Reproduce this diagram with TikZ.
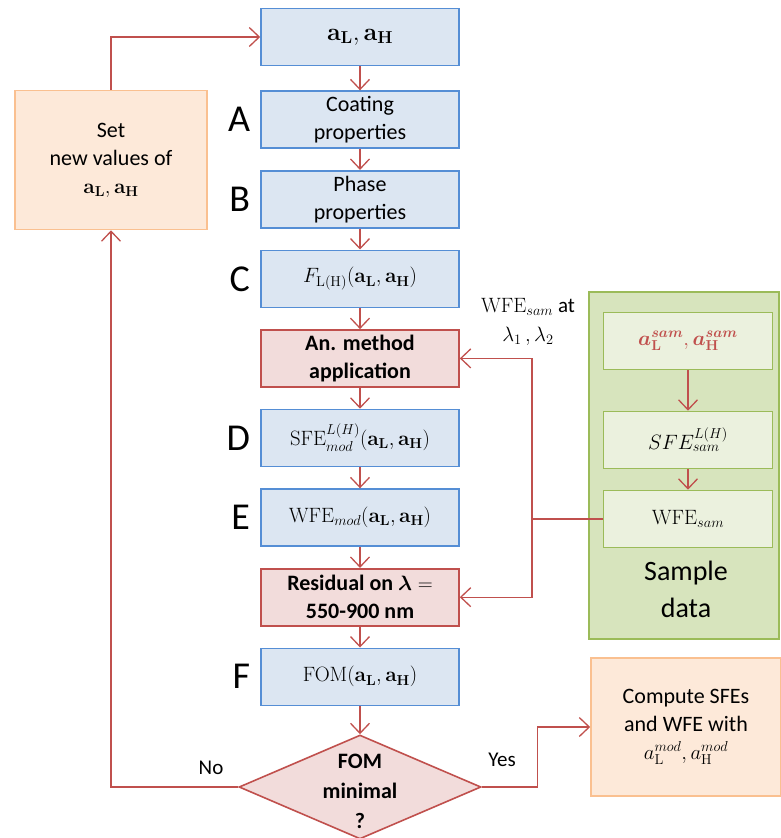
\documentclass[tikz,border=0pt]{standalone}
\usepackage{amsmath}
\usepackage[no-math]{fontspec}
\setmainfont{Carlito}
\usetikzlibrary{positioning,arrows.meta,shapes.geometric}
\definecolor{bluefill}{HTML}{DCE6F2}
\definecolor{blueline}{HTML}{558ED5}
\definecolor{redfill}{HTML}{F2DCDB}
\definecolor{redline}{HTML}{C0504D}
\definecolor{orangefill}{HTML}{FDE9D9}
\definecolor{orangeline}{HTML}{FAC090}
\definecolor{greenfill}{HTML}{D7E4BD}
\definecolor{greeninner}{HTML}{EBF1DE}
\definecolor{greenline}{HTML}{9BBB59}
\newcommand{\aL}{\mathbf{a}_{\mathbf{L}}}
\newcommand{\aH}{\mathbf{a}_{\mathbf{H}}}

\begin{document}
\begin{tikzpicture}[
    x=1pt, y=-1pt,
    >={Straight Barb[length=10pt,width=19pt]},
    font=\fontsize{22}{28}\selectfont,
    node distance=21pt and 10pt,
    every node/.style={align=center},
    box/.style={rectangle, draw, line width=1.6pt,
                minimum height=57pt, minimum width=198pt, inner sep=2pt},
    bluebox/.style={box, draw=blueline, fill=bluefill},
    redbox/.style={box, draw=redline, fill=redfill, font=\fontsize{22}{28}\selectfont\bfseries},
    orangebox/.style={box, draw=orangeline, fill=orangefill},
    greenbox/.style={box, draw=greenline, fill=greeninner,
                     minimum width=169pt},
    decision/.style={diamond, draw=redline, fill=redfill, line width=1.6pt,
                     minimum width=242pt, minimum height=104pt, inner sep=0pt},
    letter/.style={font=\fontsize{38}{40}\selectfont, inner sep=0pt},
    flow/.style={->, draw=redline, line width=1.3pt},
    lbl/.style={font=\fontsize{21}{29}\selectfont, inner sep=1pt}
  ]
  \useasboundingbox (0,0) rectangle (781,838);

  % Main column.
  \node[bluebox, font=\fontsize{24}{28}\selectfont] (start) at (360,37) {$\aL,\aH$};
  \node[bluebox, below=24pt of start] (coat)  {Coating\\properties};
  \node[bluebox, below=of coat]     (phase) {Phase\\properties};
  \node[bluebox, below=of phase]    (Fcoef) {$F_{\mathrm{L(H)}}(\aL,\aH)$};
  \node[redbox, below=of Fcoef]     (anm)   {An. method\\application};
  \node[bluebox, below=of anm]      (sfe)   {$\mathrm{SFE}^{L(H)}_{mod}(\aL,\aH)$};
  \node[bluebox, below=of sfe]      (wfe)   {$\mathrm{WFE}_{mod}(\aL,\aH)$};
  \node[redbox, below=of wfe]       (resid) {Residual on $\boldsymbol{\lambda}=$\\550-900 nm};
  \node[bluebox, below=of resid]    (fom)   {$\mathrm{FOM}(\aL,\aH)$};
  \node[decision] (dec) at (360,787) {};
  \node[font=\fontsize{22}{30}\selectfont\bfseries] (dectxt) at (360,791) {FOM\\minimal\\?};

  % Step letters.
  \node[letter, left=10pt of coat]  (lA) {A};
  \node[letter, left=10pt of phase] (lB) {B};
  \node[letter, left=10pt of Fcoef] (lC) {C};
  \node[letter, left=10pt of sfe]   (lD) {D};
  \node[letter, left=10pt of wfe]   (lE) {E};
  \node[letter, left=10pt of fom]   (lF) {F};

  % Side boxes.
  \node[orangebox, minimum width=192pt, minimum height=139pt] (setv) at (111,160)
    {Set\\new values of\\$\aL,\aH$};
  \node[orangebox, minimum width=190pt, minimum height=138pt] (comp) at (686,727)
    {Compute SFEs\\and WFE with\\$a_{\mathrm{L}}^{mod},a_{\mathrm{H}}^{mod}$};

  % Sample data group.
  \node[box, draw=greenline, fill=greenfill, minimum width=190pt,
        minimum height=347pt] (sample) at (684,465.5) {};
  \node[greenbox] (asam) at (688,341)
    {\color{redline}$\boldsymbol{a}^{\boldsymbol{sam}}_{\mathbf{L}},\boldsymbol{a}^{\boldsymbol{sam}}_{\mathbf{H}}$};
  \node[greenbox] (sfesam) at (688,440) {$SFE^{L(H)}_{sam}$};
  \node[greenbox] (wfesam) at (688,519) {$\mathrm{WFE}_{sam}$};
  \node[font=\fontsize{28}{37}\selectfont] (samtxt) at (686,589) {Sample\\data};

  % Main flow.
  \foreach \a/\b in {start/coat, coat/phase, phase/Fcoef, Fcoef/anm,
                     anm/sfe, sfe/wfe, wfe/resid, resid/fom, fom/dec}
    \draw[flow] (\a) -- (\b);
  \draw[flow] (asam) -- (sfesam);
  \draw[flow] (sfesam) -- (wfesam);

  % Sample WFE fed back.
  \coordinate (split) at (532,519);
  \draw[redline, line width=1.3pt] (wfesam.west) -- (split);
  \draw[flow] (split) |- (anm.east);
  \draw[flow] (split) |- (resid.east);
  \node[lbl] (wfelbl) at (528,322) {$\mathrm{WFE}_{sam}$ at\\$\lambda_1\,,\lambda_2$};

  % Decision branches.
  \draw[flow] (dec.west) -| (setv.south);
  \draw[flow] (setv.north) |- (start.west);
  \draw[flow] (dec.east) -- ++(56,0) |- (comp.west);
  \node[lbl] (nolbl)  at (211,768) {No};
  \node[lbl] (yeslbl) at (502,760) {Yes};

\end{tikzpicture}
\end{document}
